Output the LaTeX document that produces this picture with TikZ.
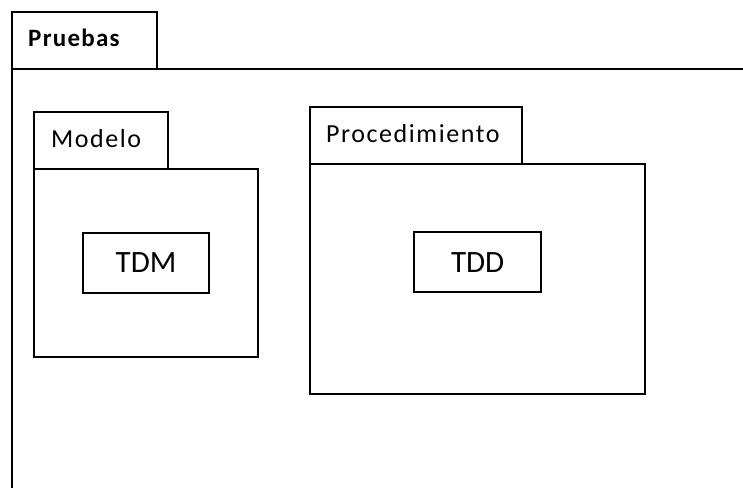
\documentclass[tikz,border=0pt]{standalone}
\usepackage{fontspec}
\setmainfont{Carlito}
\begin{document}
\begin{tikzpicture}[x=1pt,y=-1pt]
\tikzstyle{every node}+=[inner sep=0pt]
\tikzstyle{frame}=[draw=black,line width=2pt,rectangle,anchor=north west]
\tikzstyle{tablbl}=[anchor=base west,font=\fontsize{26}{30}\selectfont\addfontfeatures{LetterSpace=6}]
\tikzstyle{boxlbl}=[font=\fontsize{31}{36}\selectfont]
\useasboundingbox (0,0) rectangle (743,487);
\clip (0,0) rectangle (743,487);
% Pruebas
\node[frame,minimum width=145.3pt,minimum height=57pt] (pruebasTab) at (10.7,10.7) {};
\node[frame,minimum width=800pt,minimum height=500pt] (pruebas) at (10.7,67.7) {};
\node[anchor=base west,font=\bfseries\fontsize{25}{29}\selectfont\addfontfeatures{LetterSpace=5}] (pruebasLbl) at (28,46) {Pruebas};
% Modelo
\node[frame,minimum width=133.7pt,minimum height=57pt] (modeloTab) at (33.3,110.7) {};
\node[frame,minimum width=223.4pt,minimum height=188pt] (modelo) at (33.3,167.7) {};
\node[tablbl] (modeloLbl) at (51,147) {Modelo};
\node[frame,minimum width=126.6pt,minimum height=60pt] (tdm) at (81.7,231.7) {};
\node[boxlbl] (tdmLbl) at (tdm.center) {TDM};
% Procedimiento
\node[frame,minimum width=212pt,minimum height=56.7pt] (procTab) at (309,106) {};
\node[frame,minimum width=335.3pt,minimum height=230pt] (proc) at (309,162.7) {};
\node[tablbl] (procLbl) at (326,142) {Procedimiento};
\node[frame,minimum width=126.7pt,minimum height=60pt] (tdd) at (413.3,231.3) {};
\node[boxlbl] (tddLbl) at (tdd.center) {TDD};
\end{tikzpicture}
\end{document}
